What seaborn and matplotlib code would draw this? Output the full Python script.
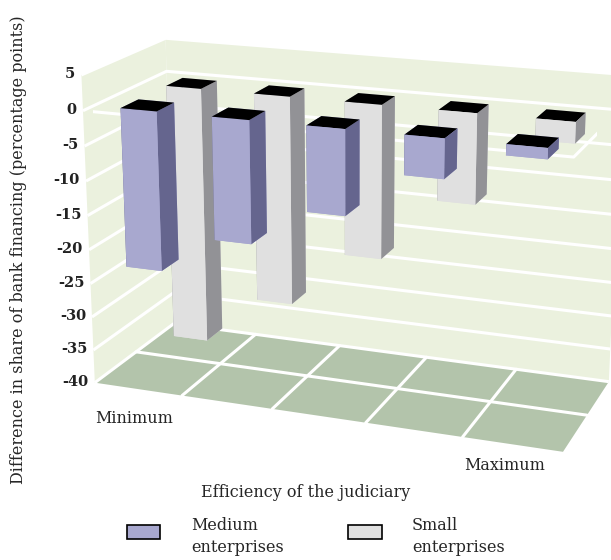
import numpy as np
import matplotlib
matplotlib.use("Agg")
import matplotlib.pyplot as plt
from matplotlib.patches import Patch, Rectangle
from matplotlib.legend_handler import HandlerPatch
from matplotlib.ticker import NullFormatter
from mpl_toolkits.mplot3d import proj3d
import seaborn as sns

# Efficiency of the judiciary, from lowest to highest
levels = ["Minimum", "", "", "", "Maximum"]
# Difference in share of bank financing (percentage points)
medium_values = [-23.0, -17.5, -12.0, -5.5, -1.5]
small_values = [-38.5, -31.0, -22.5, -13.0, -3.0]
series_names = ["Medium\nenterprises", "Small\nenterprises"]
z_ticks = [5, 0, -5, -10, -15, -20, -25, -30, -35, -40]
z_tick_labels = ["5", "0", "-5", "-10", "-15", "-20", "-25", "-30", "-35", "-40"]

sns.set_theme(style="white")
plt.rcParams["font.family"] = ["DejaVu Serif"]
plt.rcParams["axes.unicode_minus"] = False

wall = "#EBF1DE"
floor = "#B3C4AB"
med_front, med_side = "#A8A8CF", "#65658E"
sml_front, sml_side = "#E0E0E0", "#929296"
top = "#000000"
label_size = 11.5

fig = plt.figure(figsize=(6.11, 5.60), dpi=100)
ax = fig.add_axes([0.090, 0.123, 0.95, 0.9], projection="3d")
ax.computed_zorder = False
ax.set_proj_type("persp", focal_length=0.7)
ax.view_init(elev=17.5, azim=-69.5)
ax.set_box_aspect((5.0, 1.9, 3.27), zoom=1.19)

n = len(levels)
xmin, xmax = -0.5, n - 0.5
ymin, ymax = 0.0, 2.0
zmin, zmax = -40, 5
ax.set_xlim(xmin, xmax)
ax.set_ylim(ymin, ymax)
ax.set_zlim(zmin, zmax)

# walls and floor
ax.xaxis.set_pane_color(wall)
ax.yaxis.set_pane_color(wall)
ax.zaxis.set_pane_color(floor)
for a in (ax.xaxis, ax.yaxis, ax.zaxis):
    a.pane.set_edgecolor("none")
    a.line.set_color("none")
ax.set_xticks([])
ax.set_yticks([])
ax.set_zticks(z_ticks)
ax.zaxis.set_major_formatter(NullFormatter())
ax.zaxis._axinfo["grid"].update(color="white", linewidth=2.2)
ax.zaxis._axinfo["tick"].update(inward_factor=0.0, outward_factor=0.0)

# value labels along the front edge of the side wall, placed in projected coordinates
proj = ax.get_proj()
for z, lab in zip(z_ticks, z_tick_labels):
    px, py, _ = proj3d.proj_transform(xmin - 0.07, ymin, z, proj)
    ax.text2D(px, py, lab, transform=ax.transData, ha="right", va="center",
              fontsize=10.5, fontweight="bold", color="#222222", zorder=5)

grid_kw = dict(color="white", lw=2.2, zorder=1)
# floor grid: category boundaries and the split between the two series rows
for xb in np.arange(xmin + 1, xmax, 1.0):
    ax.plot([xb, xb], [ymin, ymax], [zmin, zmin], **grid_kw)
ax.plot([xmin, xmax], [1.0, 1.0], [zmin, zmin], **grid_kw)
# outline of the zero level where the category axis crosses
ax.plot([xmin, xmax, xmax], [ymin, ymin, ymax], [0, 0, 0], **grid_kw)

# bars hanging from zero
bw, bd = 0.40, 0.42
row_centres = [0.45, 1.55]
xs, ys, zs, dzs, colors = [], [], [], [], []
for yc, vals, front, side in zip(row_centres,
                                 [medium_values, small_values],
                                 [med_front, sml_front], [med_side, sml_side]):
    for i, v in enumerate(vals):
        xs.append(i - bw / 2)
        ys.append(yc - bd / 2)
        zs.append(v)
        dzs.append(-v)
        # faces: -z, +z, -y, +y, -x, +x
        colors += [front, top, front, front, side, side]
ax.bar3d(xs, ys, zs, bw, bd, dzs, color=colors, shade=False, zorder=3,
         edgecolor="none", linewidth=0)

fig.text(0.155, 0.253, levels[0], fontsize=label_size, ha="left", va="center")
fig.text(0.76, 0.168, levels[-1], fontsize=label_size, ha="left", va="center")
fig.text(0.5, 0.12, "Efficiency of the judiciary", fontsize=label_size,
         ha="center", va="center")
fig.text(0.03, 0.555, "Difference in share of bank financing (percentage points)",
         fontsize=label_size, rotation=90, ha="center", va="center")


def raised_box(legend, orig_handle, xdescent, ydescent, width, height, fontsize):
    # legend key sits level with the first line of its two-line label
    return Rectangle((-xdescent, -ydescent + 3.6), width, height)


handles = [Patch(facecolor=med_front, edgecolor="black", linewidth=1.2),
           Patch(facecolor=sml_front, edgecolor="black", linewidth=1.2)]
leg = fig.legend(handles, series_names, loc="lower center", bbox_to_anchor=(0.517, -0.018),
                 ncol=2, frameon=False, fontsize=label_size, handlelength=2.1,
                 handleheight=1.0, handletextpad=1.9, columnspacing=4.05,
                 handler_map={Patch: HandlerPatch(patch_func=raised_box)})
for t in leg.get_texts():
    t.set_linespacing(1.4)

fig.savefig("out.png", dpi=100)
